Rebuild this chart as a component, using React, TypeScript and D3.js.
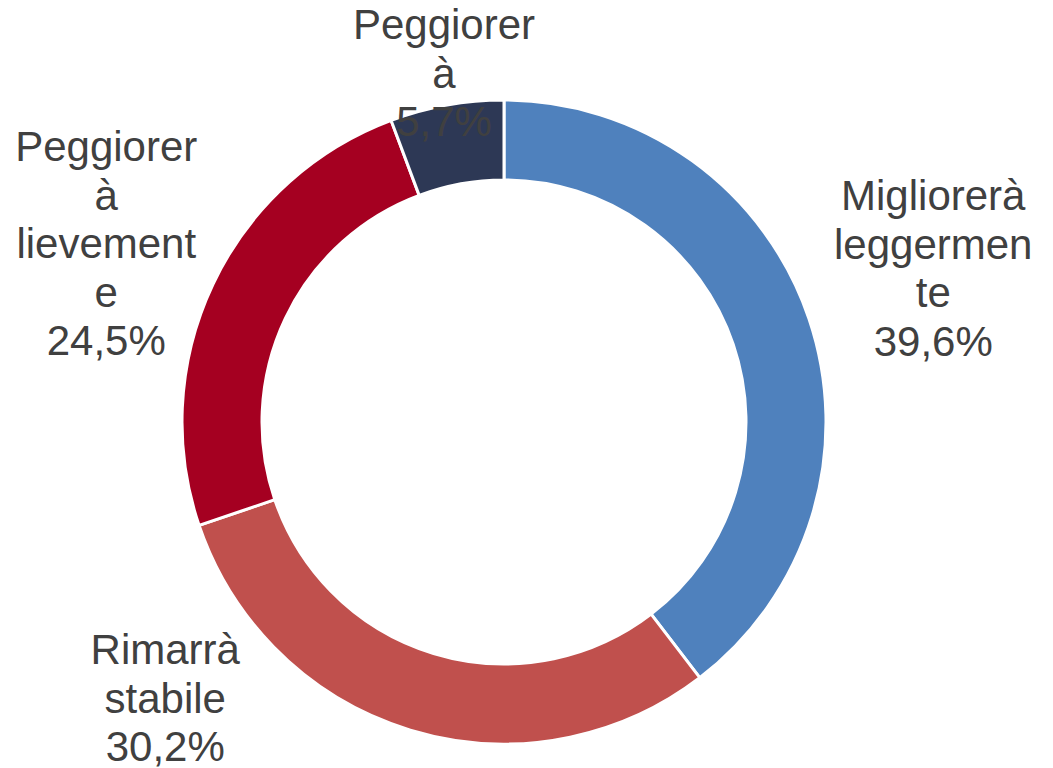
import React from 'react';
import * as d3 from 'd3';

// slice order follows the chart, clockwise from 12 o'clock
const categories = ['Migliorerà leggermente', 'Rimarrà stabile', 'Peggiorerà lievemente', 'Peggiorerà'];
const values = [39.6, 30.2, 24.5, 5.7];
const valueLabels = ['39,6%', '30,2%', '24,5%', '5,7%'];
// wrapped label lines as shown in the chart
const labelLines = [
  ['Migliorerà', 'leggermen', 'te'],
  ['Rimarrà', 'stabile'],
  ['Peggiorer', 'à', 'lievement', 'e'],
  ['Peggiorer', 'à'],
];
const colors = ['#4F81BD', '#C0504D', '#A50021', '#2D3855'];

// label placement (radius from centre, angle shift in degrees)
const labelLayout = [
  { r: 456, shift: -1 },
  { r: 437, shift: 33.9 },
  { r: 436, shift: -1.2 },
  { r: 354, shift: 0.5 },
];

const W = 1053;
const H = 768;
const cx = 504;
const cy = 422;
const outerR = 322;
const innerR = 242;
const fontSize = 42;
const lineH = 48.5;

export default function App() {
  const pie = d3.pie<number>().sort(null).value(d => d)(values);
  const arc = d3.arc<d3.PieArcDatum<number>>().innerRadius(innerR).outerRadius(outerR);

  return (
    <div style={{ position: 'fixed', left: 0, top: 0, width: W, height: H, background: '#fff' }}>
      <svg width={W} height={H} style={{ display: 'block' }}>
        <g transform={`translate(${cx},${cy})`}>
          {pie.map((d, i) => (
            <path key={i} d={arc(d) || ''} fill={colors[i]} stroke="#fff" strokeWidth={3} />
          ))}
          {pie.map((d, i) => {
            const mid = (d.startAngle + d.endAngle) / 2 + (labelLayout[i].shift * Math.PI) / 180;
            const r = labelLayout[i].r;
            const x = r * Math.sin(mid);
            const y = -r * Math.cos(mid);
            const lines = [...labelLines[i], valueLabels[i]];
            const top = y - ((lines.length - 1) * lineH) / 2;
            return (
              <text
                key={'l' + i}
                x={x}
                textAnchor="middle"
                fontFamily="'Liberation Sans', Arial, sans-serif"
                fontSize={fontSize}
                fill="#404040"
              >
                {lines.map((t, j) => (
                  <tspan key={j} x={x} y={top + j * lineH} dy="0.35em">{t}</tspan>
                ))}
              </text>
            );
          })}
        </g>
      </svg>
    </div>
  );
}
